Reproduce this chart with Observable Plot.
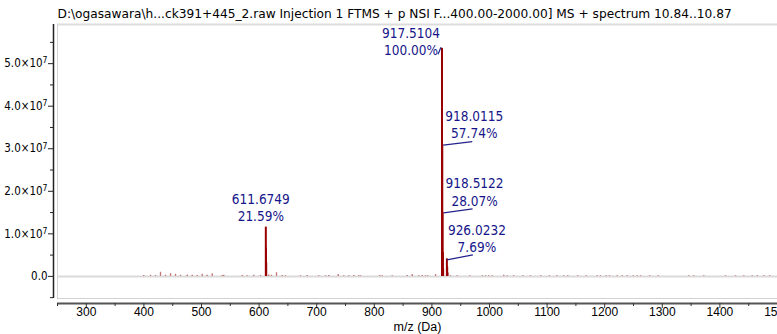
<!DOCTYPE html>
<html><head><meta charset="utf-8">
<script src="https://cdn.jsdelivr.net/npm/d3@7"></script>
<script src="https://cdn.jsdelivr.net/npm/@observablehq/plot@0.6"></script>
<style>html,body{margin:0;padding:0;background:#fff;overflow:hidden} svg{display:block}</style>
</head><body><div id="chart"></div>
<script>
// ---------- data ----------
const title = "D:\\ogasawara\\h...ck391+445_2.raw Injection 1 FTMS + p NSI F...400.00-2000.00] MS + spectrum 10.84..10.87";
const xLabel = "m/z (Da)";
const basePeakIntensity = 5.36e7;
const labeledMz  = [611.6749, 917.5104, 918.0115, 918.5122, 926.0232];
const labeledPct = [21.59, 100.00, 57.74, 28.07, 7.69];
const isotopeMz  = [612.0083, 612.3420, 919.0127, 919.5140, 926.5245, 927.0260];
const isotopePct = [12.4, 5.9, 10.5, 3.2, 4.1, 1.5];
const noiseMz = [399.8, 411.5, 420.1, 428.8, 437.5, 446.2, 454.9, 463.5, 475.2, 483.9, 492.5,
  501.2, 509.9, 518.6, 535.9, 538.7, 570.7, 579.3, 590.8, 602.4, 616.8, 621.5, 630.2, 640.1, 645.8,
  671.9, 683.5, 703.6, 715.3, 721.0, 737.3, 747.0, 755.7, 764.4, 773.1, 776.0, 809.5, 813.7, 831.1,
  857.1, 865.8, 877.3, 883.2, 888.9, 892.9, 906.3, 932.3, 943.9, 965.8, 987.3, 993.1, 998.8, 1004.7,
  1024.8, 1030.7, 1042.0, 1058.0, 1071.0, 1089.0, 1104.0, 1117.0, 1129.0, 1135.9, 1153.3, 1167.9,
  1187.0, 1192.7, 1202.6, 1208.3, 1221.7, 1230.4, 1239.1, 1249.5, 1256.4, 1262.2, 1278.3, 1292.9,
  1346.0, 1354.7, 1372.0, 1409.7, 1427.1, 1441.5, 1456.1, 1464.8, 1476.2, 1486.6];
const noisePct = [0.4, 0.5, 0.4, 1.8, 0.5, 1.2, 0.9, 0.5, 0.6, 0.5, 0.4,
  0.9, 0.5, 1.2, 0.4, 0.5, 0.4, 0.3, 0.5, 0.4, 0.6, 0.5, 1.6, 0.4, 0.3,
  0.3, 0.4, 0.3, 0.3, 0.4, 0.8, 0.3, 0.3, 0.4, 0.3, 0.3, 0.4, 0.3, 0.3,
  0.4, 0.8, 0.3, 0.4, 0.3, 0.3, 0.8, 0.3, 0.3, 0.3, 0.3, 0.3, 0.3, 0.3,
  0.5, 0.3, 0.3, 0.3, 0.3, 0.3, 0.3, 0.3, 0.3, 0.3, 0.3, 0.3,
  0.3, 0.3, 0.3, 0.3, 0.3, 0.3, 0.3, 0.3, 0.3, 0.3, 0.3, 0.3,
  0.3, 0.3, 0.3, 0.3, 0.3, 0.3, 0.3, 0.3, 0.3, 0.3];
const xTicks = [300, 400, 500, 600, 700, 800, 900, 1000, 1100, 1200, 1300, 1400, 1500];
const xMinorTicks = [250, 350, 450, 550, 650, 750, 850, 950, 1050, 1150, 1250, 1350, 1450];
const yTicks = [0, 1e7, 2e7, 3e7, 4e7, 5e7];
const yMinorTicks = [-0.5e7, 0.5e7, 1.5e7, 2.5e7, 3.5e7, 4.5e7, 5.5e7];

// ---------- layout ----------
const W = 777, H = 334, mL = 57, mR = 0, mT = 24, mB = 36;
const xDomain = [250, 1500], yDomain = [-0.52e7, 5.92e7];
const pxPerDa = (W - mL - mR) / (xDomain[1] - xDomain[0]);
const pxPerInt = (H - mT - mB) / (yDomain[1] - yDomain[0]);
const toInt = p => p / 100 * basePeakIntensity;

const mainPeaks = labeledMz.map((mz, i) => ({mz, intensity: toInt(labeledPct[i])}))
  .concat(isotopeMz.map((mz, i) => ({mz, intensity: toInt(isotopePct[i])})));
const noisePeaks = noiseMz.map((mz, i) => ({mz, intensity: toInt(noisePct[i])}));
const labels = labeledMz.map((mz, i) => ({mz, intensity: toInt(labeledPct[i]),
  text: mz.toFixed(4) + "\n" + labeledPct[i].toFixed(2) + "%"}));

// label offsets in pixels (dx, dy of text block centre) and leader segments
const labelPlace = [
  {dx: -5, dy: -20, lead: null},
  {dx: -31, dy: -7, lead: [-4, 6, -1, 1]},
  {dx: 32, dy: -20.5, lead: [1, 0.5, 30, 3]},
  {dx: 32, dy: -21, lead: [1, 0.5, 30, 3.5]},
  {dx: 30, dy: -20.5, lead: [0, 1, 26, 4]}
];
const leaders = labels.map((l, i) => labelPlace[i].lead && ({
  x1: l.mz + labelPlace[i].lead[0] / pxPerDa, y1: l.intensity - labelPlace[i].lead[1] / pxPerInt,
  x2: l.mz + labelPlace[i].lead[2] / pxPerDa, y2: l.intensity + labelPlace[i].lead[3] / pxPerInt
})).filter(Boolean);

const labelFont = "DejaVu Sans Condensed, DejaVu Sans, sans-serif";
const narrowFont = "Liberation Sans Narrow, Liberation Sans, sans-serif";
const tickFmtY = v => v === 0 ? "0.0" : (v / 1e7).toFixed(1) + "×10⁷";

const chart = Plot.plot({
  width: W, height: H, marginLeft: mL, marginRight: mR, marginTop: mT, marginBottom: mB,
  style: {background: "#fff", overflow: "visible"},
  x: {domain: xDomain},
  y: {domain: yDomain},
  marks: [
    Plot.frame({stroke: "#d2d2d2"}),
    Plot.ruleY([yDomain[1]], {stroke: "#dcdcdc", strokeWidth: 2}),
    Plot.ruleY([0], {stroke: "#dadada", strokeWidth: 2}),
    Plot.ruleX(noisePeaks, {x: "mz", y1: 0, y2: "intensity", stroke: "#b04848", strokeOpacity: 0.75, strokeWidth: 1.3}),
    Plot.ruleX(mainPeaks, {x: "mz", y1: 0, y2: "intensity", stroke: "#990000", strokeWidth: 2}),
    Plot.ruleX([xDomain[0]], {dx: -4, stroke: "#222", strokeWidth: 1.5}),
    Plot.axisY({ticks: yTicks, anchor: "left", dx: -4, tickSize: 5, tickPadding: 1, tickFormat: tickFmtY,
      label: null, fontSize: 11.5, fontFamily: labelFont, color: "#000", stroke: "#222"}),
    Plot.axisY({ticks: yMinorTicks, anchor: "left", dx: -4, tickSize: 3, tickFormat: () => "",
      label: null, stroke: "#222"}),
    Plot.ruleY([yDomain[0]], {dy: 5, stroke: "#555", strokeWidth: 2}),
    Plot.axisX({ticks: xTicks, anchor: "bottom", dy: 5, tickSize: 5, tickPadding: -1,
      tickFormat: d => String(d), label: null, fontSize: 12, fontFamily: narrowFont, stroke: "#333"}),
    Plot.axisX({ticks: xMinorTicks, anchor: "bottom", dy: 5, tickSize: 3, tickFormat: () => "",
      label: null, stroke: "#333"}),
    Plot.text([title], {text: d => d, frameAnchor: "top-left", dy: -10, textAnchor: "start",
      lineAnchor: "middle", fontSize: 12.2, fontFamily: "DejaVu Sans, sans-serif", fill: "#000"}),
    Plot.text([xLabel], {text: d => d, frameAnchor: "bottom", dy: 28, lineAnchor: "middle",
      fontSize: 12.5, fontFamily: narrowFont, fill: "#000"}),
    Plot.link(leaders, {x1: "x1", y1: "y1", x2: "x2", y2: "y2", stroke: "#23238c", strokeWidth: 1.2}),
    ...labels.map((l, i) => Plot.text([l], {x: "mz", y: "intensity", text: "text",
      dx: labelPlace[i].dx, dy: labelPlace[i].dy, lineAnchor: "middle", lineHeight: 1.28,
      fontSize: 13.5, fontFamily: labelFont, fill: "#16168a"}))
  ]
});
// render the exponent of the y tick labels as a real superscript
d3.select(chart).selectAll("text").each(function () {
  const t = this.textContent;
  if (/×10⁷$/.test(t)) {
    const el = d3.select(this);
    el.text(t.replace("⁷", ""));
    el.append("tspan").attr("dy", "-0.45em").attr("font-size", "0.75em").text("7");
  }
});
document.getElementById("chart").appendChild(chart);
</script>
</body></html>
